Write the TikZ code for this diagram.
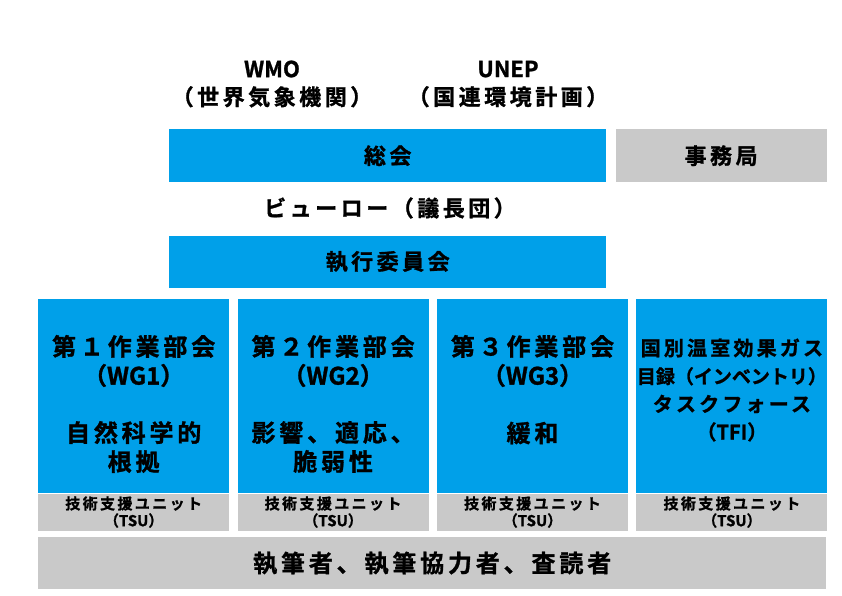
\documentclass[tikz,border=0pt]{standalone}
\usepackage{fontspec}
\setmainfont{Noto Sans CJK JP}[BoldFont={* Bold}, BoldFeatures={FakeBold=1.2}, LetterSpace=16]
\newfontfamily\tightfont{Noto Sans CJK JP}[BoldFont={* Bold}, BoldFeatures={FakeBold=1.2}]
\usepackage{tikz}
\usetikzlibrary{positioning}
\definecolor{ipccblue}{RGB}{0,160,233}
\definecolor{ipccgray}{RGB}{201,201,201}

\begin{document}
\begin{tikzpicture}[x=1pt, y=-1pt, node distance=8pt]
\tikzstyle{bluebox} = [fill=ipccblue, inner sep=0pt, text centered, font=\bfseries\fontsize{22}{26}\selectfont]
\tikzstyle{graybox} = [fill=ipccgray, inner sep=0pt, text centered, font=\bfseries\fontsize{22}{26}\selectfont]
\tikzstyle{wgbox} = [bluebox, minimum width=191pt, minimum height=194pt]
\tikzstyle{tsubox} = [graybox, minimum width=191pt, minimum height=37pt, align=center, font=\bfseries\fontsize{15}{17}\selectfont]
\tikzstyle{wgtext} = [align=center, inner sep=0pt, font=\bfseries\fontsize{24}{29}\selectfont]
\tikzstyle{toptext} = [align=center, inner sep=0pt, font=\bfseries\fontsize{22}{28}\selectfont]

\useasboundingbox (0,0) rectangle (842,595);

\node [toptext] (wmo) at (272,84) {{\tightfont\bfseries WMO}\\（世界気象機関）};
\node [toptext] (unep) at (508,84) {{\tightfont\bfseries UNEP}\\（国連環境計画）};

\node [bluebox, minimum width=437pt, minimum height=53pt, anchor=north west] (plenary) at (169,129) {総会};
\node [graybox, minimum width=211pt, minimum height=53pt, right=9pt of plenary] (secretariat) {事務局};
\node [bluebox, minimum width=437pt, minimum height=52pt, below=53pt of plenary] (excom) {執行委員会};
\node [toptext] (bureau) at (390,208) {ビューロー（議長団）};

\node [wgbox, anchor=north west] (wg1) at (38,299) {};
\node [wgbox, right=of wg1] (wg2) {};
\node [wgbox, right=of wg2] (wg3) {};
\node [wgbox, right=of wg3] (tfi) {};

\node [tsubox, below=0pt of wg1] (tsu1) {技術支援ユニット\\（{\tightfont\bfseries TSU}）};
\node [tsubox, below=0pt of wg2] (tsu2) {技術支援ユニット\\（{\tightfont\bfseries TSU}）};
\node [tsubox, below=0pt of wg3] (tsu3) {技術支援ユニット\\（{\tightfont\bfseries TSU}）};
\node [tsubox, below=0pt of tfi] (tsu4) {技術支援ユニット\\（{\tightfont\bfseries TSU}）};

\node [wgtext] (wg1title) at ([yshift=-62pt]wg1.north) {第１作業部会\\（{\tightfont\bfseries WG1}）};
\node [wgtext] (wg1topic) at ([yshift=-148pt]wg1.north) {自然科学的\\根拠};
\node [wgtext] (wg2title) at ([yshift=-62pt]wg2.north) {第２作業部会\\（{\tightfont\bfseries WG2}）};
\node [wgtext] (wg2topic) at ([yshift=-148pt]wg2.north) {影響、適応、\\脆弱性};
\node [wgtext] (wg3title) at ([yshift=-62pt]wg3.north) {第３作業部会\\（{\tightfont\bfseries WG3}）};
\node [wgtext] (wg3topic) at ([yshift=-134pt]wg3.north) {緩和};
\node [wgtext, font=\bfseries\fontsize{20}{28}\selectfont] (tfititle) at ([yshift=-91pt]tfi.north) {国別温室効果ガス\\{\tightfont\bfseries\fontsize{19}{28}\selectfont 目録（インベントリ）}\\タスクフォース\\（{\tightfont\bfseries TFI}）};

\node [graybox, minimum width=788pt, minimum height=52pt, anchor=north west, font=\bfseries\fontsize{24}{28}\selectfont] (authors) at (38,537) {執筆者、執筆協力者、査読者};
\end{tikzpicture}
\end{document}
